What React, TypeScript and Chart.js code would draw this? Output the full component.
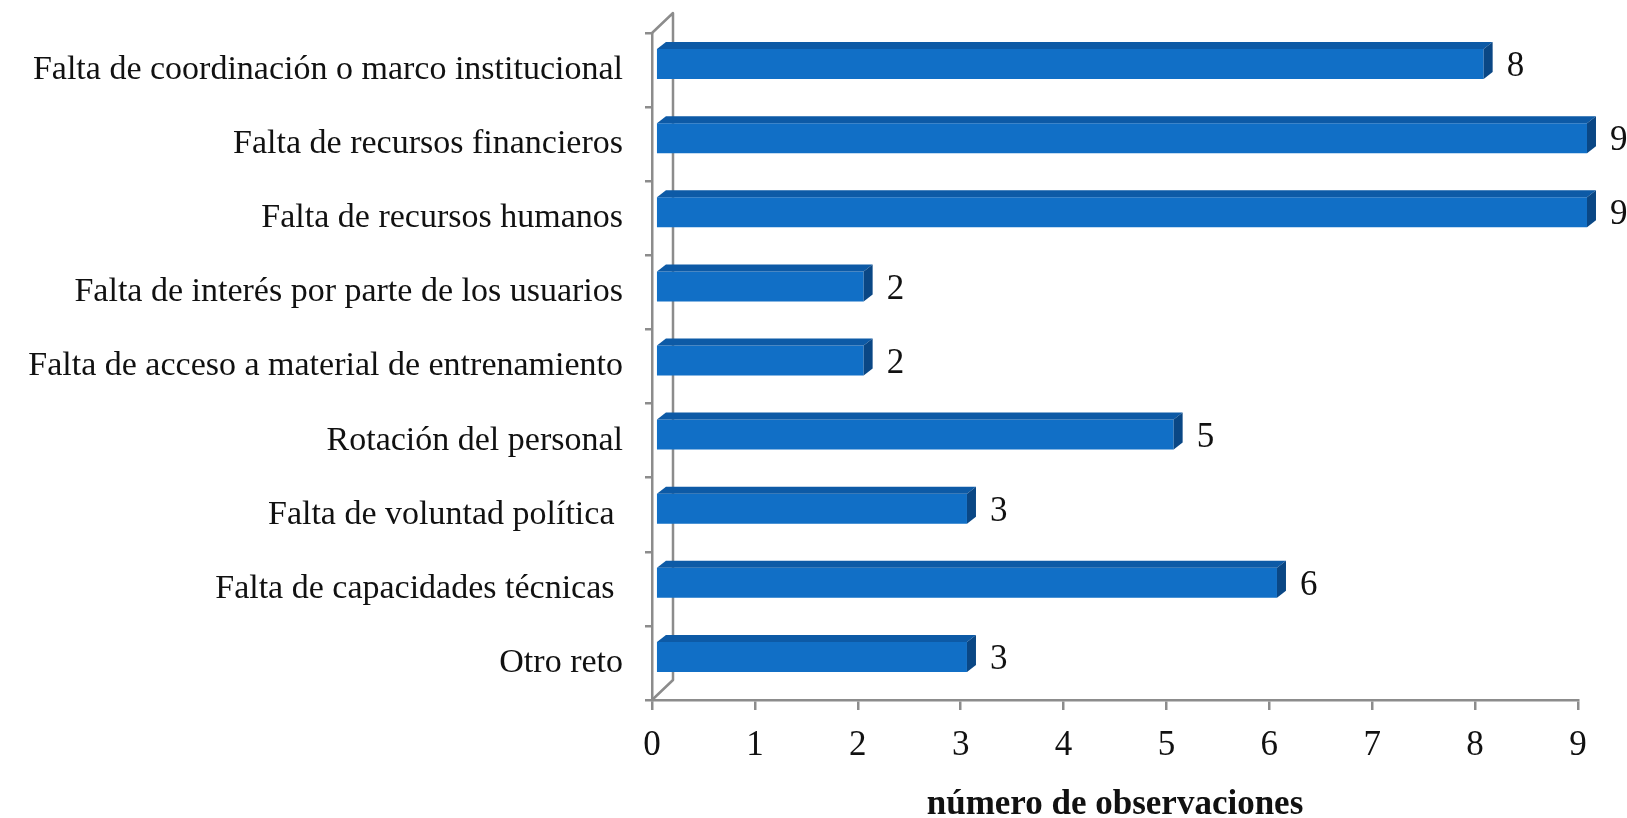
import { useEffect, useRef } from "react";
import { Chart, registerables } from "chart.js";

Chart.register(...registerables);

const categories = [
  "Falta de coordinación o marco institucional",
  "Falta de recursos financieros",
  "Falta de recursos humanos",
  "Falta de interés por parte de los usuarios",
  "Falta de acceso a material de entrenamiento",
  "Rotación del personal",
  "Falta de voluntad política ",
  "Falta de capacidades técnicas ",
  "Otro reto",
];
const observaciones = [8, 9, 9, 2, 2, 5, 3, 6, 3];
const axisTitle = "número de observaciones";
const xMin = 0;
const xMax = 9;
const xStep = 1;

const FONT = "'Liberation Serif', 'DejaVu Serif', serif";
const TEXT = "#111111";
const GRAY = "#8c8c8c";
const FRONT = "#116fc6";
const TOP = "#0d5aa6";
const SIDE = "#0a4785";
const DEPTH_X = 9;
const DEPTH_Y = 7;
const BAR_LIFT = 6;
const WALL_X = 21;
const WALL_Y = 20;

const threeD = {
  id: "threeD",
  beforeDatasetsDraw(chart: any) {
    const { ctx, chartArea } = chart;
    const { left, top, bottom } = chartArea;
    ctx.save();
    ctx.strokeStyle = GRAY;
    ctx.lineWidth = 2.5;
    ctx.lineJoin = "round";
    ctx.beginPath();
    ctx.moveTo(left, top);
    ctx.lineTo(left + WALL_X, top - WALL_Y);
    ctx.lineTo(left + WALL_X, bottom - WALL_Y);
    ctx.lineTo(left, bottom);
    ctx.stroke();
    ctx.restore();
    ctx.save();
    ctx.translate(0, -BAR_LIFT);
  },
  afterDatasetsDraw(chart: any) {
    const ctx = chart.ctx;
    const meta = chart.getDatasetMeta(0);
    meta.data.forEach((bar: any) => {
      const { x, y, base, height } = bar.getProps(["x", "y", "base", "height"], true);
      const t = y - height / 2;
      const b = y + height / 2;
      ctx.fillStyle = TOP;
      ctx.beginPath();
      ctx.moveTo(base, t);
      ctx.lineTo(base + DEPTH_X, t - DEPTH_Y);
      ctx.lineTo(x + DEPTH_X, t - DEPTH_Y);
      ctx.lineTo(x, t);
      ctx.closePath();
      ctx.fill();
      ctx.fillStyle = SIDE;
      ctx.beginPath();
      ctx.moveTo(x, t);
      ctx.lineTo(x + DEPTH_X, t - DEPTH_Y);
      ctx.lineTo(x + DEPTH_X, b - DEPTH_Y);
      ctx.lineTo(x, b);
      ctx.closePath();
      ctx.fill();
    });
    ctx.restore();
    ctx.save();
    ctx.fillStyle = TEXT;
    ctx.font = `35px ${FONT}`;
    ctx.textAlign = "left";
    ctx.textBaseline = "middle";
    meta.data.forEach((bar: any, i: number) => {
      const { x, y } = bar.getProps(["x", "y"], true);
      ctx.fillText(String(observaciones[i]), x + DEPTH_X + 14, y - 3);
    });
    ctx.restore();
  },
};

export default function App() {
  const ref = useRef<HTMLCanvasElement | null>(null);
  useEffect(() => {
    document.body.style.margin = "0";
    const canvas = ref.current;
    if (!canvas) return;
    const chart = new Chart(canvas, {
      type: "bar",
      data: {
        labels: categories,
        datasets: [
          {
            data: observaciones,
            backgroundColor: FRONT,
            borderWidth: 0,
            xAxisID: "x2",
            yAxisID: "y",
            categoryPercentage: 1,
            barPercentage: 0.405,
            clip: false as any,
          },
        ],
      },
      options: {
        indexAxis: "y",
        animation: false,
        responsive: false,
        maintainAspectRatio: false,
        events: [],
        layout: { padding: { top: 33, right: 49, bottom: 0, left: 0 } },
        plugins: {
          legend: { display: false },
          tooltip: { enabled: false },
        },
        scales: {
          x: {
            type: "linear",
            axis: "x",
            position: "bottom",
            min: xMin,
            max: xMax,
            afterFit: (s: any) => {
              s.height = 118;
              s.paddingLeft = 0;
              s.paddingRight = 0;
            },
            ticks: {
              stepSize: xStep,
              color: TEXT,
              font: { family: FONT, size: 35 },
              padding: 15,
            },
            grid: {
              display: true,
              drawOnChartArea: false,
              drawTicks: true,
              tickLength: 10,
              color: GRAY,
              lineWidth: 2.5,
            },
            border: { display: true, color: GRAY, width: 2.5 },
            title: {
              display: true,
              text: axisTitle,
              color: TEXT,
              font: { family: FONT, size: 35, weight: "bold", lineHeight: 0.75 },
              padding: 0,
            },
          },
          x2: {
            type: "linear",
            axis: "x",
            position: "bottom",
            display: false,
            min: -0.048,
            max: 8.913,
          },
          y: {
            type: "category",
            position: "left",
            afterFit: (s: any) => {
              s.width = 652;
              s.paddingTop = 0;
              s.paddingBottom = 0;
            },
            ticks: {
              color: TEXT,
              font: { family: FONT, size: 34 },
              padding: 22,
            },
            grid: {
              display: true,
              offset: true,
              drawOnChartArea: false,
              drawTicks: true,
              tickLength: 7,
              color: GRAY,
              lineWidth: 2.5,
            },
            border: { display: true, color: GRAY, width: 2.5 },
          },
        },
      } as any,
      plugins: [threeD],
    });
    return () => chart.destroy();
  }, []);
  return (
    <div style={{ width: 1627, height: 818, background: "#fff" }}>
      <canvas ref={ref} width={1627} height={818} style={{ display: "block" }} />
    </div>
  );
}
